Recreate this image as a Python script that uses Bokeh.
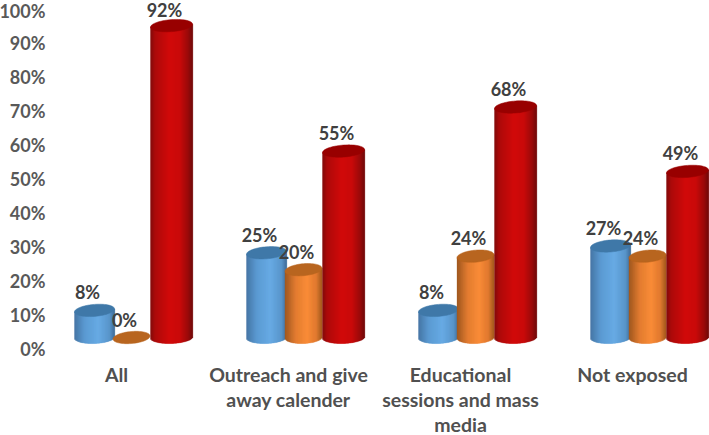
import numpy as np
from bokeh.plotting import figure
from bokeh.models import FixedTicker, ColumnDataSource
from bokeh.core.properties import value
from bokeh.embed import file_html
from bokeh.resources import INLINE

categories = ["All", "Outreach and give\naway calender", "Educational\nsessions and mass\nmedia", "Not exposed"]
blue_values = [8, 25, 8, 27]
orange_values = [0, 20, 24, 24]
red_values = [92, 55, 68, 49]
y_ticks = list(range(0, 101, 10))

W, H = 709, 435
LEFT, BOTTOM = 48, 78          # px reserved for axes
PX_X = 172.0                   # px per category
PX_Y = 3.39                    # px per percent
X0_PX = 116 - LEFT             # px of category 0 inside frame
frame_w = W - LEFT
frame_h = H - BOTTOM
Y0_PX = 349                    # px of 0%

x_range = (-X0_PX / PX_X, (frame_w - X0_PX) / PX_X)
y_range = (-(frame_h - Y0_PX) / PX_Y, Y0_PX / PX_Y)

p = figure(frame_width=frame_w, frame_height=frame_h, output_backend="svg", toolbar_location=None,
           x_range=x_range, y_range=y_range, min_border_left=0, min_border_right=0,
           min_border_top=0, min_border_bottom=0, margin=(-1, 0, 0, -4),
           background_fill_color="white", border_fill_color="white")
p.outline_line_color = None
p.grid.visible = False

FONT = "Lato"
p.yaxis.ticker = FixedTicker(ticks=y_ticks)
p.yaxis.major_label_overrides = {t: f"{t}%" for t in y_ticks}
p.yaxis.axis_line_color = None
p.yaxis.major_tick_line_color = None
p.yaxis.minor_tick_line_color = None
p.yaxis.major_tick_in = 0
p.yaxis.major_tick_out = 0
p.yaxis.major_label_text_font = FONT
p.yaxis.major_label_text_font_style = "bold"
p.yaxis.major_label_text_font_size = "18px"
p.yaxis.major_label_text_color = "#595959"
p.yaxis.major_label_standoff = 3

p.xaxis.ticker = FixedTicker(ticks=list(range(len(categories))))
p.xaxis.major_label_overrides = {i: c for i, c in enumerate(categories)}
p.xaxis.axis_line_color = None
p.xaxis.major_tick_line_color = None
p.xaxis.minor_tick_line_color = None
p.xaxis.major_tick_in = 0
p.xaxis.major_tick_out = 0
p.xaxis.major_label_text_font = FONT
p.xaxis.major_label_text_font_style = "bold"
p.xaxis.major_label_text_font_size = "19.5px"
p.xaxis.major_label_text_color = "#505050"
p.xaxis.major_label_text_line_height = 1.1
p.xaxis.major_label_standoff = 6


def lerp_stops(stops, t):
    ts = [s[0] for s in stops]
    r = np.interp(t, ts, [s[1][0] for s in stops])
    g = np.interp(t, ts, [s[1][1] for s in stops])
    b = np.interp(t, ts, [s[1][2] for s in stops])
    return ["#%02x%02x%02x" % (int(a), int(c), int(d)) for a, c, d in zip(r, g, b)]


series = [
    dict(values=blue_values, dx=-22.0, width=40, cap="#3f78a8",
         stops=[(0, (62, 112, 160)), (0.25, (84, 150, 208)), (0.6, (98, 168, 228)), (0.88, (82, 145, 200)), (1, (58, 105, 150))]),
    dict(values=orange_values, dx=15.0, width=37, cap="#b8651f",
         stops=[(0, (160, 88, 32)), (0.3, (228, 126, 50)), (0.6, (250, 140, 56)), (0.85, (225, 122, 48)), (1, (165, 90, 30))]),
    dict(values=red_values, dx=55.0, width=42, cap="#980000",
         stops=[(0, (125, 0, 0)), (0.12, (170, 0, 0)), (0.45, (208, 0, 0)), (0.7, (200, 0, 0)), (0.9, (150, 0, 0)), (1, (110, 0, 0))]),
]

BASE_PX = 11.0   # px between the 0% tick and centre of the cylinder's base
RY = 6.0         # ellipse half height, px
TILT_TOP = 3.0   # px rise across the width at the cap
TILT_BOT = 1.5
LABEL_MAX_Y = y_range[1] - 10.5 / PX_Y  # keeps the tallest label inside the frame

labels_x, labels_y, labels_t = [], [], []

for s in series:
    a = s["width"] / 2
    n = int(s["width"])
    edges = np.linspace(-a, a, n + 1)
    mids = (edges[:-1] + edges[1:]) / 2
    cols = lerp_stops(s["stops"], (mids + a) / (2 * a))
    for i, v in enumerate(s["values"]):
        cx = i + s["dx"] / PX_X
        yb = BASE_PX / PX_Y
        yt = yb + v
        left = cx + edges[:-1] / PX_X
        right = cx + (edges[1:] + 0.35) / PX_X
        low = yb + (-RY * np.sqrt(np.clip(1 - (mids / a) ** 2, 0, 1)) + TILT_BOT * mids / (2 * a)) / PX_Y
        top = yt + TILT_TOP * mids / (2 * a) / PX_Y
        if v > 0:
            p.quad(left=left, right=right, bottom=low, top=top, fill_color=cols, line_color=cols, line_width=0.3)
        th = np.linspace(0, 2 * np.pi, 73)
        ex = a * np.cos(th)
        ey = RY * np.sin(th) + TILT_TOP * ex / (2 * a)
        p.patch(cx + ex / PX_X, yt + ey / PX_Y, fill_color=s["cap"], line_color=s["cap"], line_width=0.5)
        labels_x.append(cx - 7 / PX_X)
        labels_y.append(min(yt + 18 / PX_Y, LABEL_MAX_Y))
        labels_t.append(f"{v}%")

src = ColumnDataSource(dict(x=labels_x, y=labels_y, t=labels_t))
p.text("x", "y", text="t", source=src, text_font=value(FONT), text_font_style="bold",
       text_font_size="18px", text_color="#404040", text_align="center", text_baseline="middle")

open("out.html", "w").write(file_html(p, INLINE))
